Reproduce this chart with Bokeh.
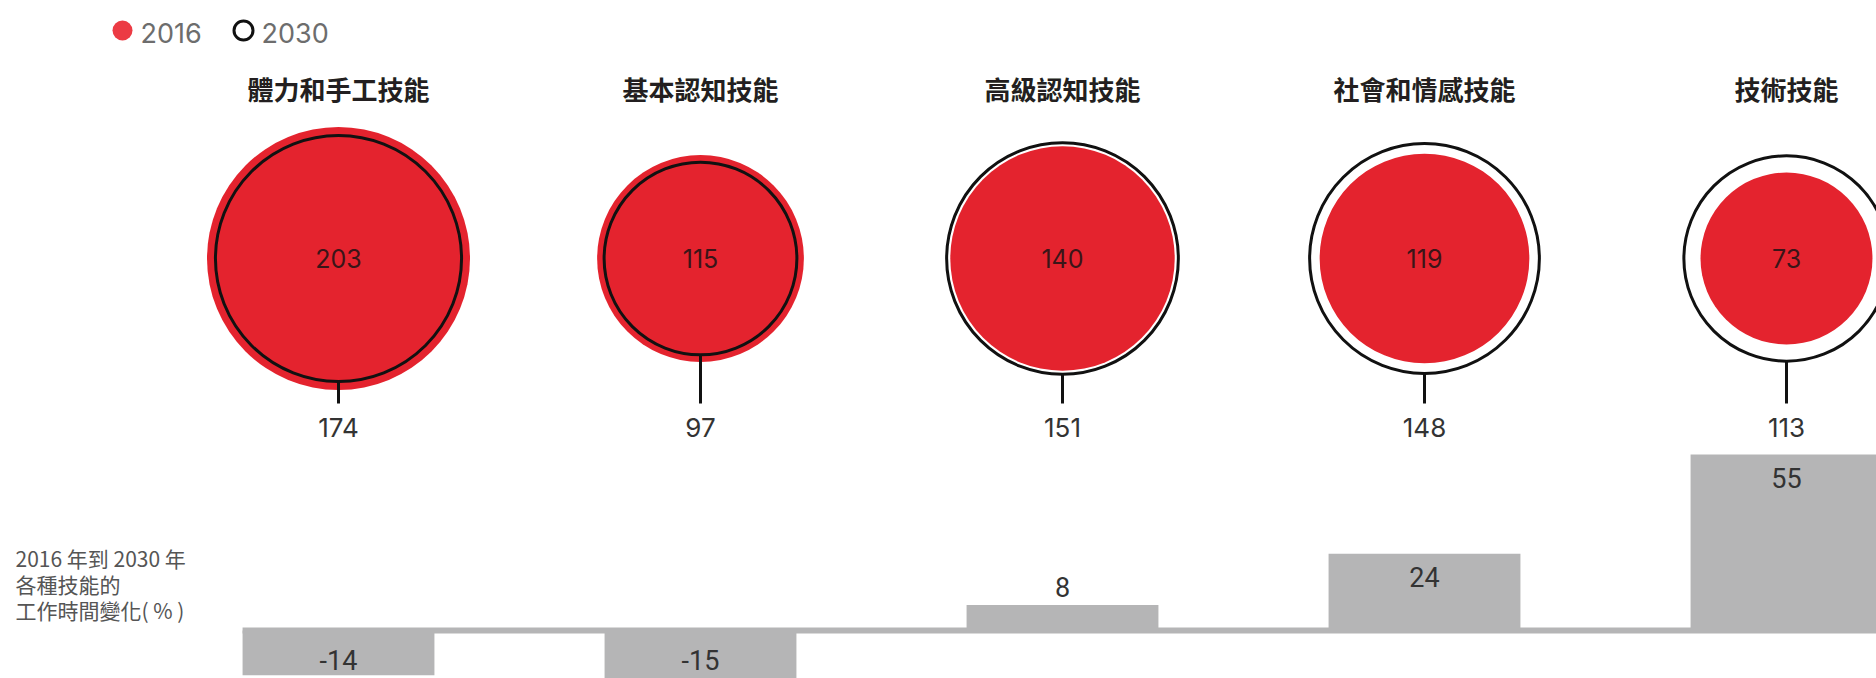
import math
from bokeh.plotting import figure
from bokeh.models import Range1d, ColumnDataSource
from bokeh.core.properties import value
from bokeh.embed import file_html
from bokeh.resources import INLINE

# ---------------- data ----------------
skills = ["體力和手工技能", "基本認知技能", "高級認知技能", "社會和情感技能", "技術技能"]
hours_2016 = [203, 115, 140, 119, 73]
hours_2030 = [174, 97, 151, 148, 113]
change_pct = [-14, -15, 8, 24, 55]
legend_labels = ["2016", "2030"]
axis_note_lines = ["2016 年到 2030 年", "各種技能的", "工作時間變化( % )"]

# ---------------- layout constants ----------------
W, H = 1876, 678
X0, STEP = 338, 362          # pixel centre of first column, column spacing
CY = 258                     # bubble centre (px from top)
R0, K = 17.8, 7.98           # bubble radius scale: r = R0 + K*sqrt(v)
ZERO, PX = 630, 3.2          # bar zero line (px from top), px per percent
BAR_W = 0.53
RED = "#e4232e"
GRAY = "#b5b5b6"
CJK = "Noto Sans CJK TC"


def radius(v):
    return R0 + K * math.sqrt(v)


idx = list(range(len(skills)))
r16 = [radius(v) for v in hours_2016]
r30 = [radius(v) for v in hours_2030]

p = figure(width=W, height=H,
           x_range=Range1d(-X0 / STEP, (W - X0) / STEP),
           y_range=Range1d(H, 0),
           toolbar_location=None, output_backend="svg", min_border=0,
           x_axis_location=None, y_axis_location=None)
p.grid.visible = False
p.outline_line_color = None
p.background_fill_color = "white"
p.border_fill_color = "white"
p.extra_y_ranges = {"pct": Range1d(-(H - ZERO) / PX, ZERO / PX)}
p.extra_x_ranges = {"px": Range1d(0, W)}

src = ColumnDataSource(dict(
    x=idx, skill=skills, h16=hours_2016, h30=hours_2030,
    t16=[str(v) for v in hours_2016], t30=[str(v) for v in hours_2030],
    r16=r16, r30=r30, y=[CY] * len(idx),
    conn0=[CY + r for r in r30], conn1=[403] * len(idx),
    lab30=[427] * len(idx), title_y=[88] * len(idx),
))

# ---------------- titles ----------------
p.text(x="x", y="title_y", text="skill", source=src,
       text_font=value(CJK), text_font_size="26px", text_font_style="bold",
       text_color="#231f20", text_align="center", text_baseline="middle")

# ---------------- bubbles ----------------
p.circle(x="x", y="y", radius="r16", radius_units="screen", source=src,
         fill_color=RED, line_color=None)
p.segment(x0="x", y0="conn0", x1="x", y1="conn1", source=src,
          line_color="#111111", line_width=3)
p.circle(x="x", y="y", radius="r30", radius_units="screen", source=src,
         fill_color=None, line_color="#111111", line_width=3)
p.text(x="x", y="y", text="t16", source=src,
       text_font=value("Inter"), text_font_size="25px",
       text_color="#3a1518", text_align="center", text_baseline="middle")
p.text(x="x", y="lab30", text="t30", source=src,
       text_font=value("Inter"), text_font_size="26px", text_font_style="normal",
       text_color="#333333", text_align="center", text_baseline="middle")

# ---------------- bars ----------------
bar_lab_y = []
for v in change_pct:
    if v >= 15:
        bar_lab_y.append(v - 7.2)
    elif v >= 0:
        bar_lab_y.append(v + 5.6)
    else:
        bar_lab_y.append(-9.2)
bsrc = ColumnDataSource(dict(x=idx, v=change_pct, t=[str(v) for v in change_pct],
                             ly=bar_lab_y))
p.segment(x0=[idx[0] - BAR_W / 2], y0=[0], x1=[(W - X0) / STEP], y1=[0],
          y_range_name="pct", line_color=GRAY, line_width=6)
p.vbar(x="x", width=BAR_W, top="v", bottom=0, source=bsrc, y_range_name="pct",
       fill_color=GRAY, line_color=None)
p.text(x="x", y="ly", text="t", source=bsrc, y_range_name="pct",
       text_font=value("Roboto"), text_font_size="27px",
       text_color="#333333", text_align="center", text_baseline="middle")

# ---------------- note on the left ----------------
note_y = [557 + 26 * i for i in range(len(axis_note_lines))]
p.text(x=[15] * len(axis_note_lines), y=note_y, text=axis_note_lines, x_range_name="px",
       text_font=value(CJK), text_font_size="21px",
       text_color="#555555", text_align="left", text_baseline="middle")

# ---------------- legend ----------------
p.scatter(x=[122], y=[30], x_range_name="px", marker="circle", size=20,
          fill_color="#ec3b44", line_color=None)
p.scatter(x=[243], y=[30], x_range_name="px", marker="circle", size=19,
          fill_color=None, line_color="#111111", line_width=3)
p.text(x=[140, 261], y=[32, 32], text=legend_labels, x_range_name="px",
       text_font=value("Inter"), text_font_size="27px", text_font_style="normal",
       text_color="#6d6d6d", text_align="left", text_baseline="middle")

open("out.html", "w").write(file_html(p, INLINE))
